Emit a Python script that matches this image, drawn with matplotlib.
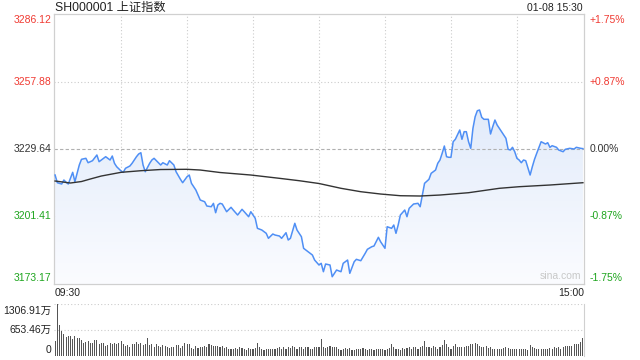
"""Intraday chart of SH000001 (上证指数) with volume bars, sina style."""
import numpy as np
import matplotlib
matplotlib.use("Agg")
import matplotlib.pyplot as plt
from matplotlib.colors import LinearSegmentedColormap

plt.rcParams["font.family"] = ["Liberation Sans", "Noto Sans CJK SC", "DejaVu Sans"]

PREV_CLOSE = 3229.64

# minute index from 09:30 (0..240, lunch break removed) and price
price_minutes = [
    0, 1, 3, 4, 5, 6, 7, 8, 9, 10, 11, 12, 14, 15, 17, 19, 20, 22, 23, 25,
    26, 27, 28, 30, 31, 32, 34, 35, 37, 38, 39, 40, 41, 43, 44, 45, 47, 48, 49, 51,
    52, 54, 55, 57, 58, 60, 61, 62, 64, 65, 66, 68, 69, 71, 72, 73, 74, 75, 76, 78,
    80, 81, 83, 85, 86, 88, 89, 90, 91, 92, 94, 96, 97, 99, 100, 102, 103, 105, 106, 107,
    109, 110, 112, 113, 115, 117, 118, 120, 121, 122, 123, 125, 126, 128, 130, 131, 133, 134, 136, 137,
    139, 141, 142, 144, 145, 147, 148, 150, 151, 153, 154, 155, 156, 157, 159, 160, 161, 163, 165, 166,
    167, 168, 170, 171, 173, 174, 175, 176, 177, 178, 179, 180, 181, 182, 184, 185, 186, 187, 188, 189,
    190, 191, 192, 193, 194, 195, 197, 198, 199, 200, 201, 202, 203, 205, 206, 207, 208, 209, 210, 211,
    212, 213, 214, 216, 217, 218, 219, 221, 223, 224, 225, 226, 228, 229, 231, 232, 234, 236, 237, 239,
    240,
]
price_values = [
    3218.76, 3215.54, 3215.00, 3216.67, 3215.71, 3215.00, 3217.51, 3219.89, 3215.96, 3219.47,
    3222.95, 3225.33, 3225.75, 3223.91, 3224.75, 3227.13, 3224.33, 3225.75, 3226.42, 3225.04,
    3226.71, 3223.66, 3222.23, 3220.44, 3219.89, 3221.57, 3222.53, 3223.66, 3226.42, 3227.55,
    3228.09, 3222.95, 3220.14, 3223.66, 3225.04, 3225.75, 3223.91, 3222.95, 3223.91, 3222.95,
    3224.75, 3222.95, 3220.14, 3216.96, 3215.54, 3218.05, 3218.76, 3215.29, 3212.49, 3210.39,
    3208.30, 3207.59, 3205.79, 3205.50, 3206.90, 3202.99, 3206.21, 3206.92, 3206.63, 3203.41,
    3205.25, 3204.12, 3202.03, 3204.41, 3203.41, 3201.32, 3203.41, 3202.03, 3200.65, 3196.46,
    3195.75, 3194.37, 3192.28, 3194.08, 3193.66, 3193.24, 3192.28, 3194.62, 3191.57, 3192.28,
    3198.56, 3195.75, 3192.95, 3188.10, 3186.67, 3185.29, 3183.20, 3181.11, 3181.82, 3178.31,
    3181.53, 3181.11, 3176.21, 3179.02, 3178.31, 3181.82, 3183.20, 3177.64, 3182.49, 3183.49,
    3182.91, 3186.00, 3187.68, 3188.77, 3189.06, 3192.70, 3190.86, 3188.10, 3197.13, 3196.46,
    3197.84, 3194.37, 3197.84, 3202.03, 3204.12, 3201.32, 3204.83, 3206.63, 3206.92, 3205.50,
    3210.39, 3215.29, 3216.96, 3219.47, 3220.85, 3223.66, 3225.04, 3227.84, 3230.90, 3226.42,
    3226.17, 3226.17, 3232.69, 3233.70, 3237.59, 3233.70, 3236.88, 3236.88, 3232.69, 3229.93,
    3238.30, 3243.15, 3245.66, 3245.96, 3242.90, 3242.07, 3242.07, 3235.92, 3238.97, 3241.77,
    3239.68, 3238.30, 3236.88, 3234.12, 3229.51, 3229.22, 3230.35, 3228.51, 3225.75, 3225.04,
    3223.91, 3225.04, 3224.75, 3218.76, 3222.23, 3225.33, 3227.84, 3232.69, 3231.73, 3232.28,
    3230.35, 3231.02, 3230.35, 3229.22, 3228.51, 3229.51, 3229.93, 3229.64, 3230.35, 3229.93,
    3229.80,
]

# average price line
avg_minutes = [0, 7, 12, 16, 21, 30, 39, 48, 60, 66, 75, 89, 102, 111, 120,
               130, 139, 148, 157, 166, 175, 188, 202, 211, 225, 240]
avg_values = [3216.25, 3215.42, 3216.04, 3217.09, 3218.34, 3219.89, 3220.56, 3221.06,
              3221.15, 3220.85, 3219.81, 3218.76, 3217.38, 3216.38, 3215.21, 3213.20,
              3211.78, 3210.81, 3210.10, 3209.98, 3210.39, 3211.36, 3213.20, 3213.87,
              3214.58, 3215.54]

# volume per minute, in 万
volume = [
    377, 1306.91, 779, 636, 545, 486, 503, 503, 427, 511, 461, 444, 402, 318, 343, 377, 335, 327, 402, 402,
    293, 327, 327, 251, 276, 318, 293, 335, 310, 318, 377, 302, 251, 276, 226, 293, 302, 360, 302, 318,
    268, 302, 461, 276, 302, 218, 293, 243, 218, 276, 251, 226, 193, 218, 218, 268, 268, 193, 251, 318,
    293, 302, 193, 168, 251, 193, 218, 226, 251, 226, 302, 276, 243, 243, 251, 218, 243, 193, 226, 168,
    184, 184, 193, 168, 218, 193, 184, 151, 193, 168, 184, 193, 335, 218, 184, 142, 184, 168, 168, 168,
    184, 193, 218, 184, 226, 168, 218, 193, 243, 226, 168, 218, 226, 184, 218, 218, 184, 168, 226, 218,
    218, 427, 218, 193, 218, 251, 218, 226, 218, 168, 151, 168, 193, 168, 193, 151, 151, 168, 168, 184,
    193, 168, 151, 184, 168, 151, 168, 168, 168, 184, 151, 168, 193, 293, 218, 168, 184, 151, 193, 168,
    193, 218, 168, 218, 226, 184, 218, 251, 377, 226, 226, 193, 251, 226, 168, 218, 276, 402, 293, 226,
    168, 251, 293, 226, 226, 218, 218, 243, 251, 293, 302, 318, 293, 251, 226, 218, 243, 193, 226, 168,
    168, 184, 184, 168, 193, 218, 193, 168, 184, 184, 168, 184, 168, 184, 168, 151, 276, 218, 193, 168,
    184, 184, 184, 184, 184, 193, 184, 218, 193, 218, 184, 226, 243, 243, 251, 251, 293, 293, 302, 360,
    461,
]

price_ticks = [3173.17, 3201.41, 3229.64, 3257.88, 3286.12]
pct_labels = ["-1.75%", "-0.87%", "0.00%", "+0.87%", "+1.75%"]
vol_ticks = [0, 653.46, 1306.91]
vol_labels = ["0", "653.46万", "1306.91万"]

RED = "#f03a32"
GREEN = "#1ea51e"
DARK = "#333333"
BORDER = "#d0d0d0"
GRID = "#cccccc"

fig = plt.figure(figsize=(6.4, 3.6), dpi=100)
ax = fig.add_axes([54 / 640, 76 / 360, 530 / 640, 270 / 360])
vax = fig.add_axes([54 / 640, 4 / 360, 530 / 640, 52 / 360])

xlo, xhi = -0.5, 240.5
ylo, yhi = price_ticks[0], price_ticks[-1]

# gradient fill under the price line
poly = ax.fill_between(price_minutes, price_values, ylo, color="none", lw=0)
grad = np.linspace(0, 1, 256).reshape(-1, 1)
cmap = LinearSegmentedColormap.from_list("fill", ["#fbfcff", "#d4e2f8"])
im = ax.imshow(grad, extent=[xlo, xhi, ylo, yhi], aspect="auto", cmap=cmap,
               origin="lower", zorder=1)
im.set_clip_path(poly.get_paths()[0], transform=ax.transData)

# grid
for t in range(30, 240, 30):
    ax.axvline(t, color=GRID, lw=0.8, ls=(0, (1, 2)), zorder=0.5)
for p in (price_ticks[1], price_ticks[3]):
    ax.axhline(p, color=GRID, lw=0.8, ls=(0, (1, 2)), zorder=0.5)
ax.axhline(price_ticks[2], color="#b0b0b0", lw=0.8, ls=(0, (3, 2)), zorder=2.5)

ax.plot(price_minutes, price_values, color="#4f8ff5", lw=1.1, zorder=3)
ax.plot(avg_minutes, avg_values, color="#333333", lw=1.0, zorder=3)

ax.set_xlim(xlo, xhi)
ax.set_ylim(ylo, yhi)
ax.set_xticks([])
ax.set_yticks([])
for s in ax.spines.values():
    s.set_color(BORDER)
    s.set_linewidth(0.9)

# price / percent labels
label_colors = [GREEN, GREEN, DARK, RED, RED]
offsets = [6, 0, 0, 0, -6]
for p, pct, c, off in zip(price_ticks, pct_labels, label_colors, offsets):
    ax.annotate(f"{p:.2f}", (0, p), xycoords=("axes fraction", "data"),
                xytext=(-2.5, off), textcoords="offset pixels",
                ha="right", va="center", fontsize=7.5, color=c)
    ax.annotate(pct, (1, p), xycoords=("axes fraction", "data"),
                xytext=(6, off), textcoords="offset pixels",
                ha="left", va="center", fontsize=7.5, color=c)

ax.text(0.995, 0.012, "sina.com", transform=ax.transAxes, ha="right", va="bottom",
        fontsize=7.5, color="#c8c8c8")

fig.text(55 / 640, 1 - 8 / 360, "SH000001 上证指数", ha="left", va="center",
         fontsize=8.8, color="#222222")
fig.text(583 / 640, 1 - 8 / 360, "01-08 15:30", ha="right", va="center",
         fontsize=7.5, color="#222222")
fig.text(55 / 640, 1 - 293 / 360, "09:30", ha="left", va="center",
         fontsize=7.5, color="#222222")
fig.text(584 / 640, 1 - 293 / 360, "15:00", ha="right", va="center",
         fontsize=7.5, color="#222222")

# volume panel
vax.bar(np.arange(len(volume)), volume, width=0.5, color="#555555", zorder=2)
for v in vol_ticks[1:]:
    vax.axhline(v, color=GRID, lw=0.8, ls=(0, (1, 2)), zorder=1)
vax.set_xlim(xlo, xhi)
vax.set_ylim(0, vol_ticks[-1])
vax.set_xticks([])
vax.set_yticks([])
for k, s in vax.spines.items():
    s.set_visible(k == "right")
    s.set_color(BORDER)
vol_offsets = [6, 0, -7]
for v, lab, off in zip(vol_ticks, vol_labels, vol_offsets):
    vax.annotate(lab, (0, v), xycoords=("axes fraction", "data"),
                 xytext=(-3, off), textcoords="offset pixels",
                 ha="right", va="center", fontsize=7.5, color="#222222")

fig.savefig("out.png", dpi=100)
